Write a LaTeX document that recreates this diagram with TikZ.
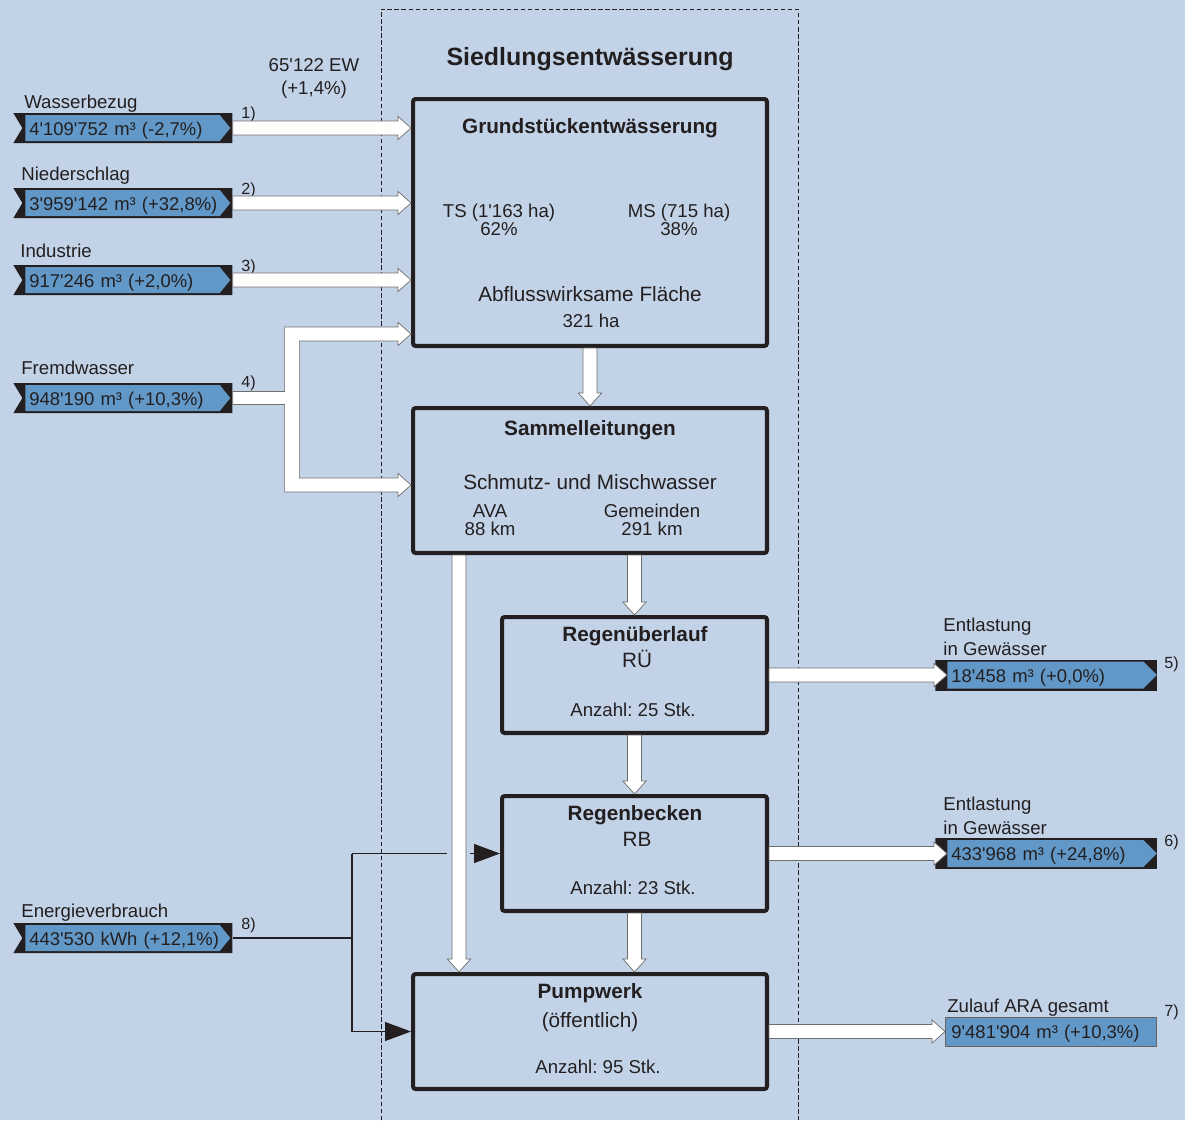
\documentclass[tikz,border=0pt]{standalone}
\usepackage{fontspec}
\setmainfont{Liberation Sans}
\usetikzlibrary{arrows.meta,calc,positioning}
\frenchspacing

\definecolor{bgblue}{RGB}{194,211,232}
\definecolor{tagblue}{RGB}{98,152,199}
\definecolor{ink}{RGB}{35,31,32}
\definecolor{flowedge}{RGB}{110,110,110}

\newcommand{\fsmall}{\fontsize{10.6}{12}\selectfont}
\newcommand{\ftag}{\fontsize{10.5}{12}\selectfont}
\newcommand{\flarge}{\fontsize{11.8}{14}\selectfont}
\newcommand{\fnum}{\fontsize{9.2}{11}\selectfont}
\newcommand{\ftitle}{\fontsize{14.2}{17}\selectfont}
\newcommand{\tq}{\textquotesingle}

% hollow flow arrows
\newcommand{\flowright}[2]{%
  \filldraw[flow] let \p1=(#1), \p2=(#2) in
    (\x1,\y1+4pt) -- (\x2-7.4pt,\y1+4pt) -- (\x2-7.4pt,\y1+6.6pt) -- (\x2,\y1)
    -- (\x2-7.4pt,\y1-6.6pt) -- (\x2-7.4pt,\y1-4pt) -- (\x1,\y1-4pt) -- cycle;}
\newcommand{\flowdown}[2]{%
  \filldraw[flow] let \p1=(#1), \p2=(#2) in
    (\x1-4pt,\y1) -- (\x1-4pt,\y2+7.4pt) -- (\x1-6.6pt,\y2+7.4pt) -- (\x1,\y2)
    -- (\x1+6.6pt,\y2+7.4pt) -- (\x1+4pt,\y2+7.4pt) -- (\x1+4pt,\y1) -- cycle;}

\tikzset{
  box/.style={draw=ink, line width=2.3pt, rounded corners=1.5pt, inner sep=0pt},
  flow/.style={fill=white, draw=flowedge, line width=0.4pt},
  eline/.style={draw=ink, line width=0.6pt},
  txt/.style={inner sep=0pt, anchor=base, text=ink, font=\fsmall},
  big/.style={txt, font=\flarge},
  head/.style={txt, font=\flarge\bfseries},
  lbl/.style={inner sep=0pt, anchor=base west, text=ink, font=\fsmall},
  num/.style={lbl, font=\fnum},
  tagbase/.style={anchor=west, inner ysep=0pt, inner xsep=0.32cm, align=left,
    text=ink, font=\ftag, text height=9.5pt, text depth=1.5pt},
  tagin/.style={tagbase, text width=3.74cm, minimum height=0.6cm,
    path picture={
      \fill[ink] (path picture bounding box.north west) -- (path picture bounding box.north east)
        -- (path picture bounding box.south east) -- (path picture bounding box.south west)
        -- ([xshift=0.18cm]path picture bounding box.west) -- cycle;
      \fill[tagblue] ([xshift=0.24cm,yshift=-0.04cm]path picture bounding box.north west)
        -- ([xshift=-0.25cm,yshift=-0.04cm]path picture bounding box.north east)
        -- ([xshift=-0.04cm]path picture bounding box.east)
        -- ([xshift=-0.25cm,yshift=0.04cm]path picture bounding box.south east)
        -- ([xshift=0.24cm,yshift=0.04cm]path picture bounding box.south west) -- cycle;}},
  tagout/.style={tagbase, text width=3.8cm, minimum height=0.62cm,
    path picture={
      \fill[ink] (path picture bounding box.north west) rectangle (path picture bounding box.south east);
      \fill[tagblue] ([xshift=0.24cm,yshift=-0.04cm]path picture bounding box.north west)
        -- ([xshift=-0.28cm,yshift=-0.04cm]path picture bounding box.north east)
        -- ([xshift=-0.01cm]path picture bounding box.east)
        -- ([xshift=-0.28cm,yshift=0.04cm]path picture bounding box.south east)
        -- ([xshift=0.24cm,yshift=0.04cm]path picture bounding box.south west) -- cycle;}},
  tagplain/.style={tagbase, inner xsep=0.12cm, text width=3.98cm, minimum height=0.58cm,
    fill=tagblue, draw=ink!70, line width=0.5pt},
}

\begin{document}
\begin{tikzpicture}[x=0.02cm, y=-0.02cm]
\useasboundingbox (0,0) rectangle (1185,1120);
\fill[bgblue] (0,0) rectangle (1185,1120);
\draw[ink, line width=0.5pt, dash pattern=on 2.5pt off 1.5pt] (381,1120) -- (381,9) -- (798,9) -- (798,1120);

\node[head, font=\ftitle\bfseries] (title) at (590,65) {Siedlungsentwässerung};
\node[txt] (ew) at (314,71) {65\tq122 EW};
\node[txt] (ewd) at (314,94) {(+1,4\%)};

% boxes
\node[box, minimum width=7.08cm, minimum height=4.94cm] (grund) at (590,222.5) {};
\node[box, minimum width=7.08cm, minimum height=2.9cm] (sammel) at (590,480.5) {};
\node[box, minimum width=5.3cm, minimum height=2.32cm] (ru) at (634.5,675) {};
\node[box, minimum width=5.3cm, minimum height=2.3cm] (rb) at (634.5,853.5) {};
\node[box, minimum width=7.08cm, minimum height=2.3cm] (pump) at (590,1031.5) {};

\node[head] at (590,133) {Grundstückentwässerung};
\node[txt] at (499,217) {TS (1\tq163 ha)};
\node[txt] at (499,235) {62\%};
\node[txt] at (679,217) {MS (715 ha)};
\node[txt] at (679,235) {38\%};
\node[big] at (590,301) {Abflusswirksame Fläche};
\node[txt] at (591,327) {321 ha};

\node[head] at (590,435) {Sammelleitungen};
\node[big] at (590,489) {Schmutz- und Mischwasser};
\node[txt] at (490,517) {AVA};
\node[txt] at (490,535) {88 km};
\node[txt] at (652,517) {Gemeinden};
\node[txt] at (652,535) {291 km};

\node[head] at (635,641) {Regenüberlauf};
\node[big] at (637,667) {RÜ};
\node[txt] at (633,716) {Anzahl: 25 Stk.};

\node[head] at (635,820) {Regenbecken};
\node[big] at (637,846) {RB};
\node[txt] at (633,894) {Anzahl: 23 Stk.};

\node[head] at (590,998) {Pumpwerk};
\node[big] at (590,1027) {(öffentlich)};
\node[txt] at (598,1073) {Anzahl: 95 Stk.};

% input tags
\node[tagin] (t1) at (13,128) {\mbox{4\tq109\tq752 m³ (-2,7\%)}};
\node[tagin] (t2) at (13,203) {\mbox{3\tq959\tq142 m³ (+32,8\%)}};
\node[tagin] (t3) at (13,280) {\mbox{917\tq246 m³ (+2,0\%)}};
\node[tagin] (t4) at (13,398) {\mbox{948\tq190 m³ (+10,3\%)}};
\node[tagin] (t8) at (13,938) {\mbox{443\tq530 kWh (+12,1\%)}};
\node[lbl] at (24,108) {Wasserbezug};
\node[lbl] at (21,180) {Niederschlag};
\node[lbl] at (20,257) {Industrie};
\node[lbl] at (21,374) {Fremdwasser};
\node[lbl] at (21,917) {Energieverbrauch};
\node[num] at (241,118) {1)};
\node[num] at (241,194) {2)};
\node[num] at (241,271) {3)};
\node[num] at (241,387) {4)};
\node[num] at (241,929) {8)};

% output tags
\node[tagout] (t5) at (935,675) {\mbox{18\tq458 m³ (+0,0\%)}};
\node[tagout] (t6) at (935,853.5) {\mbox{433\tq968 m³ (+24,8\%)}};
\node[tagplain] (t7) at (945,1031.5) {\mbox{9\tq481\tq904 m³ (+10,3\%)}};
\node[lbl] at (943,631) {Entlastung};
\node[lbl] at (943,655) {in Gewässer};
\node[lbl] at (943,810) {Entlastung};
\node[lbl] at (943,834) {in Gewässer};
\node[lbl] at (947,1012) {Zulauf ARA gesamt};
\node[num] at (1164,668) {5)};
\node[num] at (1164,846) {6)};
\node[num] at (1164,1016) {7)};

% flows
\flowright{t1.east}{t1.east -| grund.west}
\flowright{t2.east}{t2.east -| grund.west}
\flowright{t3.east}{t3.east -| grund.west}
\coordinate (f4top) at (292,334);
\coordinate (f4bot) at (292,485);
\filldraw[flow] let \p1=(t4.east), \p2=(f4top), \p3=(f4bot), \p4=(grund.west), \p5=(sammel.west) in
  (\x1,\y1+3.7pt) -- (\x2-4.2pt,\y1+3.7pt) -- (\x2-4.2pt,\y2+4pt) -- (\x4-7.4pt,\y2+4pt)
  -- (\x4-7.4pt,\y2+6.6pt) -- (\x4,\y2) -- (\x4-7.4pt,\y2-6.6pt) -- (\x4-7.4pt,\y2-4pt)
  -- (\x2+4.2pt,\y2-4pt) -- (\x2+4.2pt,\y3+4pt) -- (\x5-7.4pt,\y3+4pt)
  -- (\x5-7.4pt,\y3+6.6pt) -- (\x5,\y3) -- (\x5-7.4pt,\y3-6.6pt) -- (\x5-7.4pt,\y3-4pt)
  -- (\x2-4.2pt,\y3-4pt) -- (\x2-4.2pt,\y1-3.7pt) -- (\x1,\y1-3.7pt) -- cycle;
\coordinate (byp) at (459,555);
\flowdown{grund.south}{sammel.north}
\flowdown{sammel.south -| ru.north}{ru.north}
\flowdown{ru.south}{rb.north}
\flowdown{rb.south}{pump.north -| rb.south}
\flowdown{sammel.south -| byp}{pump.north -| byp}
\flowright{ru.east}{[xshift=0.24cm]t5.west}
\flowright{rb.east}{[xshift=0.24cm]t6.west}
\flowright{pump.east}{t7.west}

% energy
\coordinate (ej) at (352,938);
\coordinate (gapL) at (447,853.5);
\coordinate (gapR) at (470,853.5);
\draw[eline] (t8.east) -- (ej);
\draw[eline] (ej |- rb.west) -- (ej |- pump.west);
\draw[eline] (ej |- rb.west) -- (gapL);
\draw[eline, -{Triangle[length=0.52cm,width=0.38cm]}] (gapR) -- (rb.west);
\draw[eline, -{Triangle[length=0.52cm,width=0.38cm]}] (ej |- pump.west) -- (pump.west);
\end{tikzpicture}
\end{document}
